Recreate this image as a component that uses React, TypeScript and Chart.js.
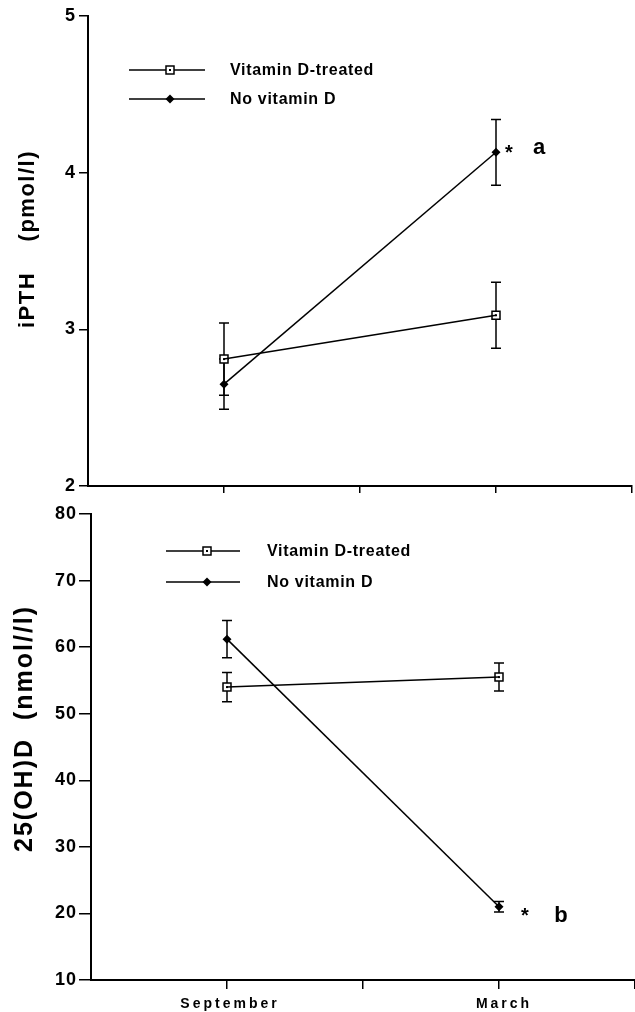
import React, { useEffect, useRef } from 'react';
import { Chart, registerables } from 'chart.js';

Chart.register(...registerables);

const FONT = "'Liberation Sans', Arial, Helvetica, sans-serif";

// ---- data ----
const monthLabels = ['September', 'March'];
const monthPositions = [1, 3];
const seriesNames = ['Vitamin D-treated', 'No vitamin D'];

const pthTreated = [2.81, 3.09];
const pthTreatedErr = [0.23, 0.21];
const pthNoVitD = [2.65, 4.13];
const pthNoVitDErr = [0.16, 0.21];
const pthTicks = [2, 3, 4, 5];

const ohdTreated = [54.0, 55.5];
const ohdTreatedErr = [2.2, 2.1];
const ohdNoVitD = [61.2, 21.0];
const ohdNoVitDErr = [2.8, 0.8];
const ohdTicks = [10, 20, 30, 40, 50, 60, 70, 80];

const pthTitle = 'iPTH    (pmol/l)';
const ohdTitle = '25(OH)D  (nmol//l)';

type Panel = {
  height: number;
  ticks: number[];
  treated: number[];
  treatedErr: number[];
  noVit: number[];
  noVitErr: number[];
  title: string;
  titleX: number;
  titleY: number;
  titleSize: number;
  titleSpacing: string;
  yAxisWidth: number;
  xAxisHeight: number;
  padTop: number;
  padRight: number;
  yTickLen: number;
  yTickPad: number;
  xTickLen: number;
  legend: { x1: number; x2: number; mx: number; ys: number[]; tx: number };
  annot: { star: string; letter: string; sdx: number; sdy: number; ldx: number; ldy: number };
  xLabels: boolean;
  xLabelY: number;
  xLabelDx: number[];
};

const panels: Panel[] = [
  {
    height: 500,
    ticks: pthTicks,
    treated: pthTreated,
    treatedErr: pthTreatedErr,
    noVit: pthNoVitD,
    noVitErr: pthNoVitDErr,
    title: pthTitle,
    titleX: 28,
    titleY: 328,
    titleSize: 22,
    titleSpacing: '1.5px',
    yAxisWidth: 88,
    xAxisHeight: 14,
    padTop: 16,
    padRight: 3,
    yTickLen: 9,
    yTickPad: 3,
    xTickLen: 7,
    legend: { x1: 129, x2: 205, mx: 170, ys: [70, 99], tx: 230 },
    annot: { star: '*', letter: 'a', sdx: 13, sdy: 7, ldx: 43, ldy: 2 },
    xLabels: false,
    xLabelY: 0,
    xLabelDx: [0, 0],
  },
  {
    height: 512,
    ticks: ohdTicks,
    treated: ohdTreated,
    treatedErr: ohdTreatedErr,
    noVit: ohdNoVitD,
    noVitErr: ohdNoVitDErr,
    title: ohdTitle,
    titleX: 25,
    titleY: 352,
    titleSize: 25,
    titleSpacing: '2px',
    yAxisWidth: 91,
    xAxisHeight: 32,
    padTop: 14,
    padRight: 0,
    yTickLen: 12,
    yTickPad: 2,
    xTickLen: 9,
    legend: { x1: 166, x2: 240, mx: 207, ys: [51, 82], tx: 267 },
    annot: { star: '*', letter: 'b', sdx: 26, sdy: 15, ldx: 62, ldy: 15 },
    xLabels: true,
    xLabelY: 508,
    xLabelDx: [3, 5],
  },
];

function drawSquare(ctx: CanvasRenderingContext2D, x: number, y: number) {
  ctx.save();
  ctx.fillStyle = '#fff';
  ctx.strokeStyle = '#000';
  ctx.lineWidth = 1.5;
  ctx.fillRect(x - 4, y - 4, 8, 8);
  ctx.strokeRect(x - 4, y - 4, 8, 8);
  ctx.fillStyle = '#000';
  ctx.fillRect(x - 1, y - 1, 2, 2);
  ctx.restore();
}

function drawDiamond(ctx: CanvasRenderingContext2D, x: number, y: number) {
  ctx.save();
  ctx.fillStyle = '#000';
  ctx.beginPath();
  ctx.moveTo(x - 4.5, y);
  ctx.lineTo(x, y - 4.5);
  ctx.lineTo(x + 4.5, y);
  ctx.lineTo(x, y + 4.5);
  ctx.closePath();
  ctx.fill();
  ctx.restore();
}

function makePlugin(p: Panel) {
  return {
    id: 'panelDecor',
    beforeDraw(chart: any) {
      (chart.ctx as any).letterSpacing = '1px';
    },
    beforeDatasetsDraw(chart: any) {
      const ctx: CanvasRenderingContext2D = chart.ctx;
      const xs = chart.scales.x;
      const ys = chart.scales.y;
      const sets = [
        [p.treated, p.treatedErr],
        [p.noVit, p.noVitErr],
      ];
      ctx.save();
      ctx.strokeStyle = '#000';
      ctx.lineWidth = 1.5;
      sets.forEach(([vals, errs]) => {
        vals.forEach((v, i) => {
          const x = xs.getPixelForValue(monthPositions[i]);
          const yt = ys.getPixelForValue(v + errs[i]);
          const yb = ys.getPixelForValue(v - errs[i]);
          ctx.beginPath();
          ctx.moveTo(x, yt);
          ctx.lineTo(x, yb);
          ctx.moveTo(x - 5, yt);
          ctx.lineTo(x + 5, yt);
          ctx.moveTo(x - 5, yb);
          ctx.lineTo(x + 5, yb);
          ctx.stroke();
        });
      });
      ctx.restore();
    },
    afterDatasetsDraw(chart: any) {
      const ctx: CanvasRenderingContext2D = chart.ctx;
      const xs = chart.scales.x;
      const ys = chart.scales.y;
      ctx.save();
      ctx.fillStyle = '#000';
      p.treated.forEach((v, i) => {
        const x = xs.getPixelForValue(monthPositions[i]);
        const y = ys.getPixelForValue(v);
        ctx.fillRect(x - 1, y - 1, 2, 2);
      });
      ctx.restore();
    },
    afterDraw(chart: any) {
      const ctx: any = chart.ctx;
      const xs = chart.scales.x;
      const ys = chart.scales.y;
      ctx.save();
      ctx.fillStyle = '#000';
      ctx.strokeStyle = '#000';

      // legend
      const L = p.legend;
      L.ys.forEach((y, i) => {
        ctx.lineWidth = 1.5;
        ctx.beginPath();
        ctx.moveTo(L.x1, y);
        ctx.lineTo(L.x2, y);
        ctx.stroke();
        if (i === 0) drawSquare(ctx, L.mx, y);
        else drawDiamond(ctx, L.mx, y);
        ctx.letterSpacing = '0.7px';
        ctx.font = `bold 16px ${FONT}`;
        ctx.textAlign = 'left';
        ctx.textBaseline = 'middle';
        ctx.fillText(seriesNames[i], L.tx, y + 1);
      });

      // annotations
      const A = p.annot;
      const last = p.noVit.length - 1;
      const px = xs.getPixelForValue(monthPositions[last]);
      const py = ys.getPixelForValue(p.noVit[last]);
      ctx.letterSpacing = '0px';
      ctx.textAlign = 'center';
      ctx.textBaseline = 'alphabetic';
      ctx.font = `bold 20px ${FONT}`;
      ctx.fillText(A.star, px + A.sdx, py + A.sdy);
      ctx.font = `bold 22px ${FONT}`;
      ctx.fillText(A.letter, px + A.ldx, py + A.ldy);

      // y-axis title
      ctx.save();
      ctx.translate(p.titleX, p.titleY);
      ctx.rotate(-Math.PI / 2);
      ctx.letterSpacing = p.titleSpacing;
      ctx.font = `bold ${p.titleSize}px ${FONT}`;
      ctx.textAlign = 'left';
      ctx.textBaseline = 'middle';
      ctx.fillText(p.title, 0, 0);
      ctx.restore();

      // x labels
      if (p.xLabels) {
        ctx.letterSpacing = '3px';
        ctx.font = `bold 14px ${FONT}`;
        ctx.textAlign = 'center';
        ctx.textBaseline = 'alphabetic';
        monthLabels.forEach((lab, i) => {
          const x = xs.getPixelForValue(monthPositions[i]);
          ctx.fillText(lab, x + p.xLabelDx[i], p.xLabelY);
        });
      }
      ctx.restore();
    },
  };
}

function makeConfig(p: Panel): any {
  const mkData = (vals: number[]) => vals.map((v, i) => ({ x: monthPositions[i], y: v }));
  return {
    type: 'line',
    data: {
      datasets: [
        {
          label: seriesNames[0],
          data: mkData(p.treated),
          borderColor: '#000',
          borderWidth: 1.5,
          pointStyle: 'rect',
          pointRadius: 0,
          pointHoverRadius: 0,
          tension: 0,
        },
        {
          label: seriesNames[1],
          data: mkData(p.noVit),
          borderColor: '#000',
          borderWidth: 1.5,
          pointStyle: 'rectRot',
          pointRadius: 4.5,
          pointBackgroundColor: '#000',
          pointBorderColor: '#000',
          pointBorderWidth: 0,
          tension: 0,
        },
        {
          label: seriesNames[0] + ' markers',
          data: mkData(p.treated),
          showLine: false,
          pointStyle: 'rect',
          pointRadius: 5.66,
          pointBackgroundColor: '#fff',
          pointBorderColor: '#000',
          pointBorderWidth: 1.5,
        },
      ],
    },
    options: {
      animation: false,
      responsive: false,
      maintainAspectRatio: false,
      events: [],
      layout: {
        autoPadding: false,
        padding: { left: 0, right: p.padRight, top: p.padTop, bottom: 0 },
      },
      plugins: { legend: { display: false }, tooltip: { enabled: false } },
      scales: {
        x: {
          type: 'linear',
          min: 0,
          max: 4,
          ticks: { stepSize: 1, autoSkip: false, callback: () => '', padding: 0 },
          grid: {
            drawOnChartArea: false,
            drawTicks: true,
            tickLength: p.xTickLen,
            lineWidth: 1.5,
            color: (c: any) => (c.tick && c.tick.value === 0 ? 'rgba(0,0,0,0)' : '#000'),
          },
          border: { display: true, color: '#000', width: 2 },
          afterFit: (s: any) => {
            s.height = p.xAxisHeight;
            s.paddingLeft = 0;
            s.paddingRight = 0;
          },
        },
        y: {
          type: 'linear',
          min: p.ticks[0],
          max: p.ticks[p.ticks.length - 1],
          afterBuildTicks: (s: any) => {
            s.ticks = p.ticks.map((v) => ({ value: v }));
          },
          ticks: {
            color: '#000',
            padding: p.yTickPad,
            font: { family: FONT, size: 18, weight: 'bold' },
          },
          grid: {
            drawOnChartArea: false,
            drawTicks: true,
            tickLength: p.yTickLen,
            lineWidth: 1.5,
            color: '#000',
          },
          border: { display: true, color: '#000', width: 2 },
          afterFit: (s: any) => {
            s.width = p.yAxisWidth;
            s.paddingTop = 0;
            s.paddingBottom = 0;
          },
        },
      },
    },
    plugins: [makePlugin(p)],
  };
}

function Panel({ p, top }: { p: Panel; top: number }) {
  const ref = useRef<HTMLCanvasElement>(null);
  useEffect(() => {
    const chart = new Chart(ref.current as HTMLCanvasElement, makeConfig(p));
    return () => chart.destroy();
  }, []);
  return (
    <canvas
      ref={ref}
      width={635}
      height={p.height}
      style={{ position: 'absolute', left: 0, top, width: 635, height: p.height, display: 'block' }}
    />
  );
}

export default function App() {
  return (
    <div style={{ position: 'absolute', left: 0, top: 0, width: 635, height: 1012, background: '#fff' }}>
      <Panel p={panels[0]} top={0} />
      <Panel p={panels[1]} top={500} />
    </div>
  );
}
